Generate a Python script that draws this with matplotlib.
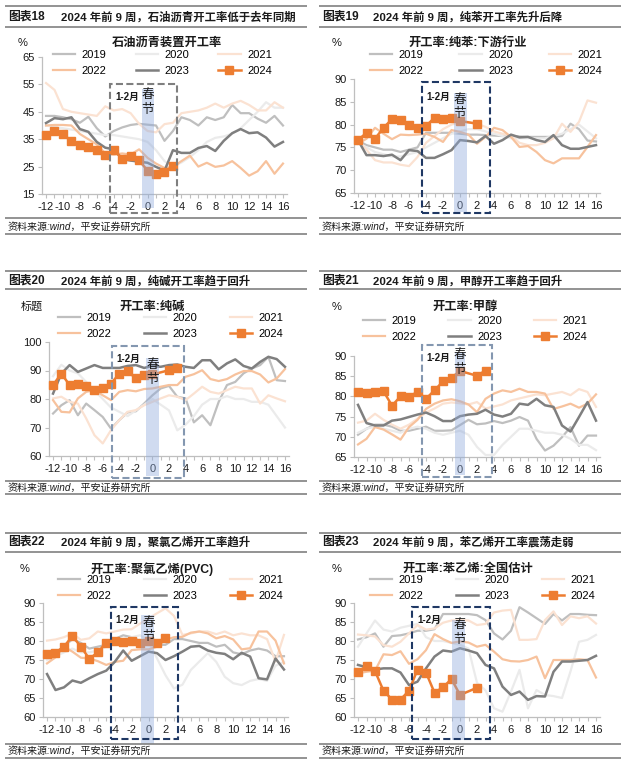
import numpy as np
import matplotlib
matplotlib.use('Agg')
import matplotlib.pyplot as plt
from matplotlib.patches import Rectangle
from matplotlib.lines import Line2D
from matplotlib.ticker import FixedLocator, FuncFormatter

plt.rcParams['font.family'] = ['Liberation Sans', 'Noto Sans CJK SC']
plt.rcParams['axes.unicode_minus'] = False

W, H = 631, 769
NAN = np.nan

weeks = list(range(-12, 17))
years = ['2019', '2020', '2021', '2022', '2023', '2024']

# ---------------- data ----------------
asphalt_2019 = [43.5, 43.5, 43.0, 42.3, 41.0, 43.2, 39.0, 36.0, 38.0, 39.3, 40.2, 40.6, 40.3, 40.0, 34.4, 38.0, 43.0, 42.0, 40.0, 43.0, 42.0, 43.0, 47.5, 44.5, 44.5, 42.5, 41.0, 43.5, 40.0]
asphalt_2020 = [40.0, 39.5, 39.0, 38.5, 38.0, 37.5, 37.0, 36.5, 36.5, 36.0, 35.5, 35.0, 34.0, 31.0, 27.0, 25.0, 26.5, 28.5, 31.0, 34.0, 35.5, 36.0, 37.0, 39.0, 42.0, 45.0, 48.5, 46.5, 46.5]
asphalt_2021 = [55.5, 53.0, 46.0, 45.0, 44.5, 44.0, 43.5, 47.0, 45.5, 46.0, 44.5, 40.6, 38.0, 37.5, 40.5, 41.0, 44.5, 45.0, 45.5, 46.5, 48.0, 46.5, 48.0, 49.0, 47.5, 45.5, 45.5, 48.5, 46.5]
asphalt_2022 = [40.0, 40.2, 40.2, 40.0, 36.9, 35.0, 33.1, 29.8, 29.4, 29.8, 29.4, 31.3, 28.2, 26.1, 24.5, 24.9, 27.0, 29.0, 25.0, 26.4, 24.9, 25.4, 27.0, 24.5, 21.7, 23.3, 27.0, 22.4, 26.1]
asphalt_2023 = [40.9, 42.7, 42.3, 43.0, 38.7, 37.7, 34.0, 31.9, 31.3, 27.8, 27.2, 26.8, 26.4, 24.9, 23.5, 31.0, 30.0, 30.0, 31.8, 32.5, 30.7, 34.4, 37.2, 38.7, 37.2, 37.5, 35.6, 32.3, 34.0]
asphalt_2024 = [36.5, 38.0, 36.9, 34.2, 32.8, 32.2, 31.1, 29.4, 31.1, 27.9, 28.8, 27.3, 23.5, 22.4, 23.1, 25.1] + [NAN] * 13

benz_2019 = [76.5, 75.5, 75.0, 74.5, 74.5, 74.0, 74.5, 75.0, 78.2, 78.2, 78.2, 78.2, 78.0, 77.8, 77.8, 77.7, 77.6, 77.5, 77.5, 77.4, 77.3, 77.3, 77.3, 77.3, 77.5, 80.2, 79.0, 76.5, 76.3]
benz_2020 = [76.0, 75.0, 74.0, 73.5, 73.0, 73.0, 73.5, 74.0, 75.0, 76.0, 77.0, 78.0, 78.5, 79.0, 79.0, 78.5, 78.0, 77.5, 77.0, 77.0, 77.0, 77.0, 77.0, 77.5, 78.0, 79.0, 80.0, 78.5, 77.0]
benz_2021 = [76.5, 74.5, 72.2, 71.7, 71.7, 71.2, 70.9, 72.9, 76.0, 77.5, 79.0, 80.0, 80.5, 80.5, 80.2, 79.5, 78.5, 78.0, 77.5, 76.0, 75.5, 75.5, 76.0, 77.0, 80.2, 78.4, 80.6, 85.3, 84.8]
benz_2022 = [75.8, 76.9, 79.3, 78.0, 76.8, 77.8, 77.7, 77.8, 78.0, 77.3, 76.2, 78.8, 78.4, 77.8, 75.8, 77.3, 79.3, 78.8, 77.3, 75.1, 75.3, 74.0, 72.2, 71.5, 72.6, 72.6, 72.6, 75.1, 77.7]
benz_2023 = [76.6, 73.3, 73.3, 73.1, 73.4, 72.2, 74.4, 74.2, 72.7, 72.7, 73.5, 74.4, 76.6, 76.4, 76.1, 77.5, 75.8, 76.6, 77.8, 77.2, 77.3, 76.6, 76.2, 77.7, 75.5, 74.7, 74.7, 75.1, 75.5]
benz_2024 = [76.6, 78.2, 76.9, 79.3, 81.2, 80.9, 80.0, 79.3, 79.7, 81.5, 81.2, 81.5, 80.8, NAN, 80.2] + [NAN] * 14

soda_2019 = [74.9, 77.8, 79.6, 74.3, 78.4, 76.1, 73.7, 69.6, 72.6, 75.3, 75.7, 78.4, 81.3, 83.7, 84.6, 80.8, 80.2, 71.8, 74.3, 70.8, 79.0, 84.9, 86.0, 89.0, 90.7, 91.9, 94.8, 86.6, 86.3]
soda_2020 = [88.0, 92.0, 90.0, 89.0, 86.0, 83.0, 80.0, 77.0, 75.5, 74.0, 76.0, 78.0, 80.0, 78.0, 76.0, 69.0, 71.0, 74.0, 78.0, 80.0, 80.0, 81.0, 80.0, 80.0, 79.0, 79.0, 78.0, 74.0, 70.0]
soda_2021 = [80.2, 80.8, 79.0, 78.4, 73.2, 67.3, 64.4, 69.1, 72.6, 75.5, 76.1, 77.8, 79.0, 80.2, 81.3, 80.8, 79.6, 81.9, 84.3, 82.5, 81.9, 83.1, 84.3, 83.7, 83.7, 78.4, 81.3, 80.2, 79.2]
soda_2022 = [79.6, 75.5, 75.3, 80.2, 82.5, 83.1, 81.3, 79.6, 82.5, 83.1, 82.7, 83.5, 83.7, 84.3, 84.9, 84.9, 87.8, 88.7, 90.1, 87.0, 86.3, 87.0, 88.6, 89.8, 89.8, 88.6, 85.8, 87.2, 90.5]
soda_2023 = [81.9, 88.9, 91.9, 89.5, 90.7, 91.9, 90.9, 90.9, 90.9, 91.6, 91.9, 90.9, 91.6, 91.3, 91.9, 92.1, 91.3, 90.9, 93.6, 93.6, 90.4, 92.5, 93.9, 91.6, 90.7, 93.0, 94.8, 94.0, 91.3]
soda_2024 = [84.9, 88.9, 84.9, 85.1, 84.4, 83.2, 83.7, 85.4, 88.9, 89.9, 87.2, 88.4, 88.6, NAN, 90.1, 90.8] + [NAN] * 13

meth_2019 = [70.5, 72.0, 73.0, 73.0, 72.5, 71.5, 71.5, 72.0, 72.5, 71.5, 71.5, 71.6, 72.9, 74.2, 73.1, 73.3, 73.9, 73.4, 74.0, 74.9, 74.0, 69.5, 66.6, 67.8, 69.9, 72.4, 67.8, 70.3, 70.3]
meth_2020 = [71.0, 72.0, 72.5, 72.0, 71.5, 71.0, 72.0, 72.5, 72.0, 71.0, 70.5, 71.0, 71.5, 70.5, 67.5, 65.5, 65.5, 68.0, 70.0, 72.0, 72.0, 71.5, 71.0, 71.0, 70.5, 69.5, 68.0, 68.0, 66.7]
meth_2021 = [73.5, 74.0, 75.7, 74.2, 73.0, 72.0, 73.0, 74.5, 76.0, 77.0, 78.2, 78.5, 78.3, 78.0, 78.6, 77.0, 77.5, 78.0, 79.0, 79.5, 80.0, 80.5, 80.3, 80.7, 81.1, 80.3, 81.8, 81.1, 77.4]
meth_2022 = [68.1, 69.5, 72.4, 71.8, 70.6, 69.3, 72.4, 74.2, 76.9, 78.2, 79.0, 79.3, 78.8, 78.0, 76.1, 79.4, 80.7, 81.5, 81.1, 81.9, 81.1, 81.1, 80.7, 76.9, 77.5, 78.2, 77.2, 78.2, 80.5]
meth_2023 = [77.9, 73.4, 72.8, 72.8, 74.0, 74.3, 74.9, 75.5, 76.0, 75.1, 73.9, 73.9, 75.1, 75.5, 75.7, 76.7, 75.5, 75.0, 75.7, 78.2, 77.9, 79.4, 77.8, 77.4, 72.8, 71.3, 74.9, 78.6, 74.0]
meth_2024 = [81.1, 80.8, 81.0, 81.3, 77.7, 80.0, 79.8, 81.2, 79.4, 81.5, 83.7, 84.6, 86.3, NAN, 85.1, 86.4] + [NAN] * 13

pvc_2019 = [76.0, 77.0, 78.5, 80.5, 79.5, 78.0, 78.5, 79.0, 80.5, 81.5, 81.0, 80.0, 79.5, 79.0, 79.0, 80.5, 80.5, 80.0, 79.5, 79.5, 78.5, 79.0, 77.0, 76.5, 77.5, 78.0, 77.5, 76.0, 76.0]
pvc_2020 = [75.0, 76.0, 77.0, 78.0, 77.0, 77.0, 77.5, 78.5, 80.0, 80.5, 81.0, 81.5, 80.0, 75.4, 71.0, 67.5, 68.5, 72.4, 74.6, 76.8, 74.5, 70.6, 68.9, 68.4, 69.5, 70.0, 69.5, 73.5, 74.5]
pvc_2021 = [80.1, 80.4, 81.0, 82.0, 80.3, 80.7, 82.5, 82.0, 82.5, 83.0, 83.1, 84.6, 86.0, 87.3, 88.6, 86.6, 81.6, 82.0, 82.5, 82.5, 81.8, 82.5, 81.5, 82.0, 81.5, 81.5, 80.5, 74.6, 81.6]
pvc_2022 = [74.1, 75.7, 78.5, 77.2, 75.6, 75.4, 74.7, 73.7, 74.5, 74.8, 77.6, 77.8, 77.8, 78.5, 80.3, 81.0, 81.1, 82.2, 82.5, 82.0, 80.7, 81.3, 80.4, 77.8, 78.1, 82.5, 82.5, 80.1, 74.1]
pvc_2023 = [71.3, 67.1, 67.8, 69.6, 69.0, 70.2, 71.3, 72.2, 74.5, 77.5, 74.8, 76.0, 77.2, 76.8, 75.0, 76.0, 77.2, 78.5, 78.7, 77.5, 76.9, 76.6, 75.2, 76.9, 75.9, 70.2, 69.9, 75.4, 72.5]
pvc_2024 = [76.5, 76.9, 78.5, 81.3, 78.5, 75.3, 77.0, 79.6, 80.1, 79.8, 79.9, 79.6, 80.0, 79.6, 80.9] + [NAN] * 14

sty_2019 = [80.4, 81.0, 82.0, 78.5, 81.3, 81.5, 82.0, 82.7, 82.7, 83.1, 87.1, 87.1, 87.1, 87.1, 86.8, 85.5, 82.0, 80.4, 82.7, 88.9, 87.5, 86.0, 84.5, 87.1, 85.4, 87.1, 87.1, 86.9, 86.8]
sty_2020 = [78.5, 82.0, 85.4, 83.0, 82.5, 83.5, 84.0, 84.5, 81.0, 80.0, 80.0, 79.5, 79.0, 78.0, 69.0, 67.0, 62.3, 61.4, 66.7, 72.4, 62.3, 67.1, 65.8, 65.5, 65.0, 72.0, 79.8, 80.3, 81.6]
sty_2021 = [81.7, 81.5, 81.2, 78.9, 78.5, 79.8, 82.0, 84.2, 83.0, 83.3, 84.8, 85.4, 85.5, 85.4, 84.2, 84.5, 87.5, 88.0, 88.2, 80.3, 80.3, 80.5, 85.5, 87.8, 84.2, 86.5, 86.0, 86.5, 84.6]
sty_2022 = [71.5, 71.9, 72.2, 76.5, 76.3, 77.3, 74.0, 75.2, 77.6, 81.8, 80.5, 79.5, 79.9, 79.6, 78.5, 79.0, 77.2, 75.2, 74.7, 74.6, 75.0, 75.9, 70.2, 75.0, 75.0, 75.0, 75.2, 75.0, 70.4]
sty_2023 = [73.7, 73.1, 72.5, 72.8, 72.8, 71.7, 68.4, 69.3, 72.8, 75.9, 77.5, 77.2, 78.1, 77.5, 76.8, 73.7, 72.8, 68.0, 65.8, 66.7, 64.5, 65.5, 65.4, 71.9, 74.6, 74.6, 74.8, 75.0, 76.1]
sty_2024 = [71.9, 73.4, 72.1, 66.9, 64.6, 64.6, 66.9, 72.5, 71.7, 66.4, 67.8, 70.0, 65.8, NAN, 67.7] + [NAN] * 14

fig_numbers = ['图表18', '图表19', '图表20', '图表21', '图表22', '图表23']
headlines = ['2024 年前 9 周，石油沥青开工率低于去年同期',
             '2024 年前 9 周，纯苯开工率先升后降',
             '2024 年前 9 周，纯碱开工率趋于回升',
             '2024 年前 9 周，甲醇开工率趋于回升',
             '2024 年前 9 周，聚氯乙烯开工率趋升',
             '2024 年前 9 周，苯乙烯开工率震荡走弱']
chart_titles = ['石油沥青装置开工率', '开工率:纯苯:下游行业', '开工率:纯碱',
                '开工率:甲醇', '开工率:聚氯乙烯(PVC)', '开工率:苯乙烯:全国估计']
unit_labels = ['%', '%', '标题', '%', '%', '%']
source_text = '资料来源:wind，平安证券研究所'
ytick_sets = [[15, 25, 35, 45, 55, 65], [65, 70, 75, 80, 85, 90], [60, 70, 80, 90, 100],
              [65, 70, 75, 80, 85, 90], [60, 65, 70, 75, 80, 85, 90], [60, 65, 70, 75, 80, 85, 90]]

series_sets = [
    [asphalt_2019, asphalt_2020, asphalt_2021, asphalt_2022, asphalt_2023, asphalt_2024],
    [benz_2019, benz_2020, benz_2021, benz_2022, benz_2023, benz_2024],
    [soda_2019, soda_2020, soda_2021, soda_2022, soda_2023, soda_2024],
    [meth_2019, meth_2020, meth_2021, meth_2022, meth_2023, meth_2024],
    [pvc_2019, pvc_2020, pvc_2021, pvc_2022, pvc_2023, pvc_2024],
    [sty_2019, sty_2020, sty_2021, sty_2022, sty_2023, sty_2024],
]

# ---------------- styles / layout ----------------
colors = {'2019': '#bfbfbf', '2020': '#ebebeb', '2021': '#fbe2d2',
          '2022': '#f7c29d', '2023': '#7f7f7f', '2024': '#ed7d31'}
lws = {'2019': 1.6, '2020': 1.6, '2021': 1.6, '2022': 1.6, '2023': 1.8, '2024': 1.8}

# axes rect in pixels: left, top, right, bottom
layout = [
    dict(ax=(41.8, 57, 287.2, 194), col=0, row=0, leg=(53, 50, 2.6),
         box=(-4.45, 3.45, 8, 55), band=(-0.7, 0.75, 10, 53.5), boxc='#7f7f7f',
         lab=(-3.85, 50.3), chun=(0, 51.0), jie=(0, 45.7)),
    dict(ax=(353.75, 79, 600.25, 193), col=1, row=0, leg=(370, 50, 3.2),
         box=(-4.47, 3.5, 60.6, 89.3), band=(-0.7, 0.8, 60.8, 86.9), boxc='#1f3864',
         lab=(-3.9, 86.0), chun=(0, 85.4), jie=(0, 82.3)),
    dict(ax=(48.9, 342, 289.1, 456), col=0, row=1, leg=(58, 313, 2.9),
         box=(-4.88, 3.8, 52.3, 98.6), band=(-0.78, 0.79, 53, 94.4), boxc='#8497b0',
         lab=(-4.3, 94.0), chun=(0, 91.9), jie=(0, 86.7)),
    dict(ax=(353.75, 356, 600.25, 457), col=1, row=1, leg=(363, 316, 2.85),
         box=(-4.47, 3.76, 60, 92.7), band=(-0.59, 0.59, 60.5, 91), boxc='#8497b0',
         lab=(-3.9, 89.5), chun=(0, 90.2), jie=(0, 86.5)),
    dict(ax=(42.8, 603, 288.2, 717), col=0, row=2, leg=(58, 575, 2.9),
         box=(-4.43, 3.5, 54.2, 89), band=(-0.9, 0.65, 53, 86.8), boxc='#1f3864',
         lab=(-3.96, 85.5), chun=(0, 84.7), jie=(0, 81.0)),
    dict(ax=(353.75, 603, 600.25, 717), col=1, row=2, leg=(370, 575, 2.9),
         box=(-5.65, 3.5, 54.2, 89), band=(-0.9, 0.6, 54, 85.5), boxc='#1f3864',
         lab=(-5.05, 85.5), chun=(0, 84.2), jie=(0, 80.3)),
]
row_y = [(6, 17, 27, 218, 226.5, 234), (271, 280.5, 289, 481, 487.5, 494), (533, 542, 552, 744, 751, 758)]
col_x = [(5, 307, 8, 61), (319, 621, 322, 373)]
title_pos = [(23, 167, 43), (337, 468, 43), (32, 152, 307), (337, 465, 307), (25, 152, 569), (337, 468, 569)]

fig = plt.figure(figsize=(W / 100, H / 100), dpi=100)


def fx(x):
    return x / W


def fy(y):
    return 1 - y / H


def hline(x0, x1, y, color='#808080', lw=1.2):
    fig.add_artist(Line2D([fx(x0), fx(x1)], [fy(y), fy(y)], transform=fig.transFigure,
                          color=color, lw=lw, solid_capstyle='butt'))


axis_col = '#bfbfbf'
text_col = '#1a1a1a'

for i, lay in enumerate(layout):
    l, t, r, b = lay['ax']
    ax = fig.add_axes([fx(l), fy(b), (r - l) / W, (b - t) / H])
    yt = ytick_sets[i]
    ax.set_xlim(-12.5, 16.5)
    ax.set_ylim(yt[0], yt[-1])
    for s in ['top', 'right']:
        ax.spines[s].set_visible(False)
    for s in ['left', 'bottom']:
        ax.spines[s].set_color(axis_col)
        ax.spines[s].set_linewidth(0.9)
    ax.xaxis.set_major_locator(FixedLocator(weeks))
    ax.xaxis.set_major_formatter(FuncFormatter(lambda v, p: str(int(v)) if int(v) % 2 == 0 else ''))
    ax.set_yticks(yt)
    ax.tick_params(axis='both', colors=axis_col, labelcolor=text_col, labelsize=8,
                   length=3, width=0.8, direction='out')
    ax.tick_params(axis='x', pad=3)
    ax.tick_params(axis='y', pad=2)
    ax.patch.set_alpha(0)

    x = np.array(weeks)
    handles = {}
    for yr, ser in zip(years, series_sets[i]):
        y = np.array(ser, dtype=float)
        m = ~np.isnan(y)
        if yr == '2024':
            h, = ax.plot(x[m], y[m], color=colors[yr], lw=lws[yr], marker='s', ms=5.2,
                         mec=colors[yr], mfc=colors[yr], zorder=4, label=yr, clip_on=False)
        else:
            h, = ax.plot(x[m], y[m], color=colors[yr], lw=lws[yr], zorder=3 if yr == '2023' else 2,
                         label=yr, solid_joinstyle='round')
        handles[yr] = h

    # dashed box & band
    bx0, bx1, by0, by1 = lay['box']
    ax.add_patch(Rectangle((bx0, by0), bx1 - bx0, by1 - by0, fill=False, ls=(0, (3.4, 1.6)),
                           lw=1.5, ec=lay['boxc'], clip_on=False, zorder=6))
    gx0, gx1, gy0, gy1 = lay['band']
    ax.add_patch(Rectangle((gx0, gy0), gx1 - gx0, gy1 - gy0, fc='#8faadc', ec='none', alpha=0.42,
                           clip_on=False, zorder=5))
    ax.text(lay['lab'][0], lay['lab'][1], '1-2月', fontsize=7, fontweight='bold', color=text_col,
            ha='left', va='center', zorder=7)
    ax.text(lay['chun'][0], lay['chun'][1], '春', fontsize=9, color=text_col, ha='center', va='center', zorder=7)
    ax.text(lay['jie'][0], lay['jie'][1], '节', fontsize=9, color=text_col, ha='center', va='center', zorder=7)

    # legend
    order = ['2019', '2022', '2020', '2023', '2021', '2024']
    lx, ly, cs = lay['leg']
    ax.legend([handles[k] for k in order], order, ncol=3, frameon=False, fontsize=8,
              handlelength=2.0, handletextpad=0.6, columnspacing=cs, labelspacing=0.55,
              borderpad=0, borderaxespad=0, loc='upper left',
              bbox_to_anchor=(fx(lx), fy(ly)), bbox_transform=fig.transFigure)

    # texts
    ux, tx, ty = title_pos[i]
    fig.text(fx(ux), fy(ty), unit_labels[i], fontsize=8, color=text_col, ha='center', va='center')
    fig.text(fx(tx), fy(ty), chart_titles[i], fontsize=8.8, fontweight='bold', color=text_col,
             ha='center', va='center')

    c0, c1, hx0, hx1 = col_x[lay['col']]
    y0, yh, y1, s0, st, s1 = row_y[lay['row']]
    hline(c0, c1, y0)
    hline(c0, c1, y1)
    hline(c0, c1, s0)
    hline(c0, c1, s1)
    fig.text(fx(hx0), fy(yh), fig_numbers[i], fontsize=8.5, fontweight='bold', color=text_col,
             ha='left', va='center')
    fig.text(fx(hx1), fy(yh), headlines[i], fontsize=8.2, fontweight='bold', color=text_col,
             ha='left', va='center')
    fig.text(fx(hx0), fy(st), source_text, fontsize=7.2, style='italic', color=text_col,
             ha='left', va='center')

fig.savefig('out.png', dpi=100)
